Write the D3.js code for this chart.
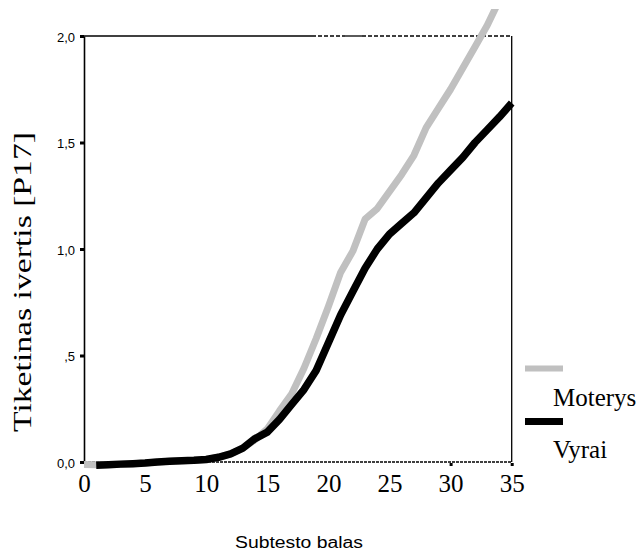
<!DOCTYPE html>
<html><head><meta charset="utf-8">
<script src="https://cdn.jsdelivr.net/npm/d3@7"></script>
<style>body{margin:0;background:#fff}svg{display:block}</style>
</head><body>
<svg id="c" width="640" height="551"></svg>
<script>
const scores = d3.range(0, 36);
const moterysX = d3.range(0, 35);
const moterys = [-0.012,-0.013,-0.012,-0.01,-0.008,-0.005,0,0.003,0.006,0.008,0.012,0.022,0.038,0.065,0.105,0.155,0.24,0.32,0.44,0.58,0.73,0.89,0.99,1.14,1.19,1.27,1.35,1.44,1.57,1.66,1.75,1.85,1.95,2.05,2.17];
const vyraiX = d3.range(1, 36);
const vyrai = [-0.015,-0.013,-0.01,-0.008,-0.005,0,0.003,0.006,0.008,0.012,0.022,0.038,0.065,0.11,0.14,0.2,0.27,0.34,0.43,0.56,0.69,0.8,0.91,1.0,1.07,1.12,1.17,1.24,1.31,1.37,1.43,1.5,1.56,1.62,1.685];
const xTicks = [0,5,10,15,20,25,30,35];
const yTicks = [0,0.5,1,1.5,2];
const yTickLabels = ["0,0",",5","1,0","1,5","2,0"];
const seriesNames = ["Moterys","Vyrai"];
const seriesColors = ["#c0c0c0","#000000"];

const svg = d3.select("#c");
const x = d3.scaleLinear().domain([0,35]).range([84,511.7]);
const y = d3.scaleLinear().domain([0,2]).range([462,36]);
const serif = "'Liberation Serif','Times New Roman',serif";
const sans = "'Liberation Sans',Arial,sans-serif";

// frame
const frame = svg.append("g");
frame.append("line").attr("x1",x(0)).attr("x2",312).attr("y1",y(2)).attr("y2",y(2)).attr("stroke","#000").attr("stroke-width",1.3);
frame.append("line").attr("x1",312).attr("x2",345).attr("y1",y(2)).attr("y2",y(2)).attr("stroke","#000").attr("stroke-width",1.3).attr("stroke-dasharray","4,2");
frame.append("line").attr("x1",345).attr("x2",362).attr("y1",y(2)).attr("y2",y(2)).attr("stroke","#000").attr("stroke-width",1.3);
frame.append("line").attr("x1",362).attr("x2",x(35)).attr("y1",y(2)).attr("y2",y(2)).attr("stroke","#000").attr("stroke-width",1.3).attr("stroke-dasharray","4,2");
frame.append("line").attr("x1",x(35)).attr("x2",x(35)).attr("y1",y(2)).attr("y2",y(0)).attr("stroke","#000").attr("stroke-width",1.3);
frame.append("line").attr("x1",x(0)).attr("x2",x(35)).attr("y1",y(0)).attr("y2",y(0)).attr("stroke","#000").attr("stroke-width",1.6).attr("stroke-dasharray","3,1");

// left axis
const yAxis = d3.axisLeft(y).tickValues(yTicks).tickSize(0).tickPadding(9)
  .tickFormat((d,i)=>yTickLabels[i]);
const ya = svg.append("g").attr("transform",`translate(${x(0)},0)`).call(yAxis);
ya.select(".domain").attr("stroke","#000").attr("stroke-width",1.6);
ya.selectAll(".tick text").attr("font-family",sans).attr("font-size",13).attr("fill","#000").attr("dy","0.4em");
ya.selectAll(".tick").append("rect").attr("x",-4).attr("y",-1.5).attr("width",4).attr("height",3).attr("fill","#000");

// bottom axis
const xAxis = d3.axisBottom(x).tickValues(xTicks).tickSize(0).tickPadding(12);
const xa = svg.append("g").attr("transform",`translate(0,${y(0)})`).call(xAxis);
xa.select(".domain").remove();
xa.selectAll(".tick text").attr("font-family",serif).attr("font-size",25).attr("fill","#000");
xa.selectAll(".tick").filter(d=>d>=30).append("rect").attr("x",-1.5).attr("y",1).attr("width",3).attr("height",3).attr("fill","#000");

// lines
svg.append("defs").append("clipPath").attr("id","cl").append("rect").attr("x",0).attr("y",9).attr("width",640).attr("height",542);
const line = d3.line().x(d=>x(d[0])).y(d=>y(d[1]));
const g = svg.append("g").attr("clip-path","url(#cl)");
g.append("path").datum(moterysX.map((v,i)=>[v,moterys[i]])).attr("d",line)
  .attr("fill","none").attr("stroke",seriesColors[0]).attr("stroke-width",7).attr("stroke-linejoin","round");
g.append("path").datum(vyraiX.map((v,i)=>[v,vyrai[i]])).attr("d",line)
  .attr("fill","none").attr("stroke",seriesColors[1]).attr("stroke-width",7.5).attr("stroke-linejoin","round");

// titles
svg.append("text").attr("transform","translate(31,282) rotate(-90)").attr("text-anchor","middle")
  .attr("font-family",serif).attr("font-size",26).attr("fill","#000")
  .attr("textLength",300).attr("lengthAdjust","spacingAndGlyphs")
  .text("Tiketinas ivertis [P17]");
svg.append("text").attr("x",299).attr("y",548).attr("text-anchor","middle")
  .attr("font-family",sans).attr("font-size",16).attr("fill","#000")
  .attr("textLength",128).attr("lengthAdjust","spacingAndGlyphs")
  .text("Subtesto balas");

// legend
const leg = svg.append("g");
const legY = [368.5, 421];
seriesNames.forEach((n,i)=>{
  leg.append("rect").attr("x",525).attr("y",legY[i]-3).attr("width",38).attr("height",i?7:6).attr("fill",seriesColors[i]);
  leg.append("text").attr("x",553).attr("y",legY[i]+37).attr("font-family",serif).attr("font-size",25).attr("fill","#000").text(n);
});
</script>
</body></html>
